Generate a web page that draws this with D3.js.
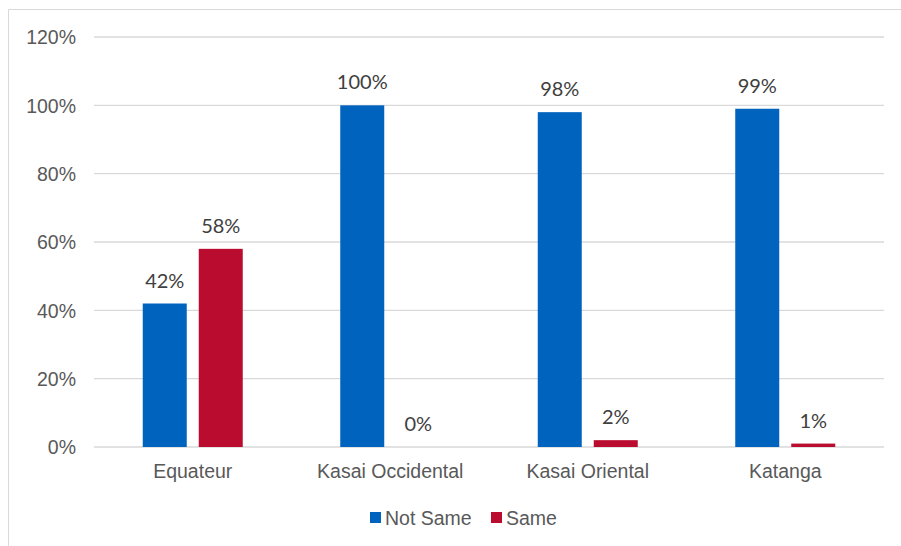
<!DOCTYPE html>
<html>
<head>
<meta charset="utf-8">
<script src="https://cdn.jsdelivr.net/npm/d3@7"></script>
<style>
  html, body { margin: 0; padding: 0; background: #fff; }
  svg { display: block; }
</style>
</head>
<body>
<svg id="chart" width="901" height="546"></svg>
<script>
// Chart data
const categories = ["Equateur", "Kasai Occidental", "Kasai Oriental", "Katanga"];
const seriesNames = ["Not Same", "Same"];
const notSame = [42, 100, 98, 99];
const same = [58, 0, 2, 1];
const yTicks = [0, 20, 40, 60, 80, 100, 120];
const seriesColors = ["#0063BE", "#BA0C2F"];

const seriesValues = [notSame, same];
const rows = categories.map((c, i) => ({
  category: c,
  values: seriesNames.map((s, j) => ({ series: s, value: seriesValues[j][i], color: seriesColors[j] }))
}));

const svg = d3.select("#chart");
const W = 901, H = 546;
const plot = { left: 94, right: 884, top: 37, bottom: 447 };

// Outer chart frame (left + top edges visible)
svg.append("path")
  .attr("d", `M8.5,${H} L8.5,9.5 L${W},9.5`)
  .attr("fill", "none")
  .attr("stroke", "#d9d9d9")
  .attr("stroke-width", 1);

const x0 = d3.scaleBand().domain(categories).range([plot.left, plot.right]).padding(0);
const bw = x0.bandwidth();
const x1 = d3.scaleBand().domain(seriesNames)
  .range([bw / 2 - 50, bw / 2 + 50])
  .paddingInner(2 - 100 / 56)
  .paddingOuter(0);

const y = d3.scaleLinear().domain([0, 120]).range([plot.bottom, plot.top]);

// Gridlines
svg.append("g")
  .selectAll("line")
  .data(yTicks)
  .join("line")
  .attr("x1", plot.left).attr("x2", plot.right)
  .attr("y1", d => y(d)).attr("y2", d => y(d))
  .attr("stroke", "#d9d9d9")
  .attr("stroke-width", 1.3);

// Y axis labels
const yAxis = d3.axisLeft(y).tickValues(yTicks).tickFormat(d => d + "%").tickSize(0).tickPadding(0);
const yg = svg.append("g").attr("transform", `translate(76,0)`).call(yAxis);
yg.select(".domain").remove();
yg.selectAll("text")
  .attr("font-family", "'Liberation Sans', Arial, sans-serif")
  .attr("font-size", "19.5px")
  .attr("fill", "#595959")
  .attr("dy", "0.35em");

// X axis labels
const xAxis = d3.axisBottom(x0).tickSize(0).tickPadding(0);
const xg = svg.append("g").attr("transform", `translate(0,${plot.bottom})`).call(xAxis);
xg.select(".domain").remove();
xg.selectAll("text")
  .attr("font-family", "'Liberation Sans', Arial, sans-serif")
  .attr("font-size", "19.5px")
  .attr("fill", "#595959")
  .attr("y", 31)
  .attr("dy", 0);

// Bars
const groups = svg.append("g")
  .selectAll("g")
  .data(rows)
  .join("g")
  .attr("transform", d => `translate(${x0(d.category)},0)`);

groups.selectAll("rect")
  .data(d => d.values)
  .join("rect")
  .attr("x", d => x1(d.series))
  .attr("width", x1.bandwidth())
  .attr("y", d => y(d.value))
  .attr("height", d => y(0) - y(d.value))
  .attr("fill", d => d.color);

// Data labels
groups.selectAll("text")
  .data(d => d.values)
  .join("text")
  .attr("x", d => x1(d.series) + x1.bandwidth() / 2)
  .attr("y", d => y(d.value) - 16)
  .attr("text-anchor", "middle")
  .attr("font-family", "Lato, 'Open Sans', sans-serif")
  .attr("font-size", "20px")
  .attr("fill", "#404040")
  .text(d => d.value + "%");

// Legend
const legend = svg.append("g").attr("transform", "translate(370,0)");
const legendOffsets = [0, 121];
seriesNames.forEach((s, i) => {
  const g = legend.append("g").attr("transform", `translate(${legendOffsets[i]},0)`);
  g.append("rect").attr("x", 0).attr("y", 512).attr("width", 11).attr("height", 11).attr("fill", seriesColors[i]);
  g.append("text")
    .attr("x", 15).attr("y", 525)
    .attr("font-family", "'Liberation Sans', Arial, sans-serif")
    .attr("font-size", "19.5px")
    .attr("fill", "#595959")
    .text(s);
});
</script>
</body>
</html>
